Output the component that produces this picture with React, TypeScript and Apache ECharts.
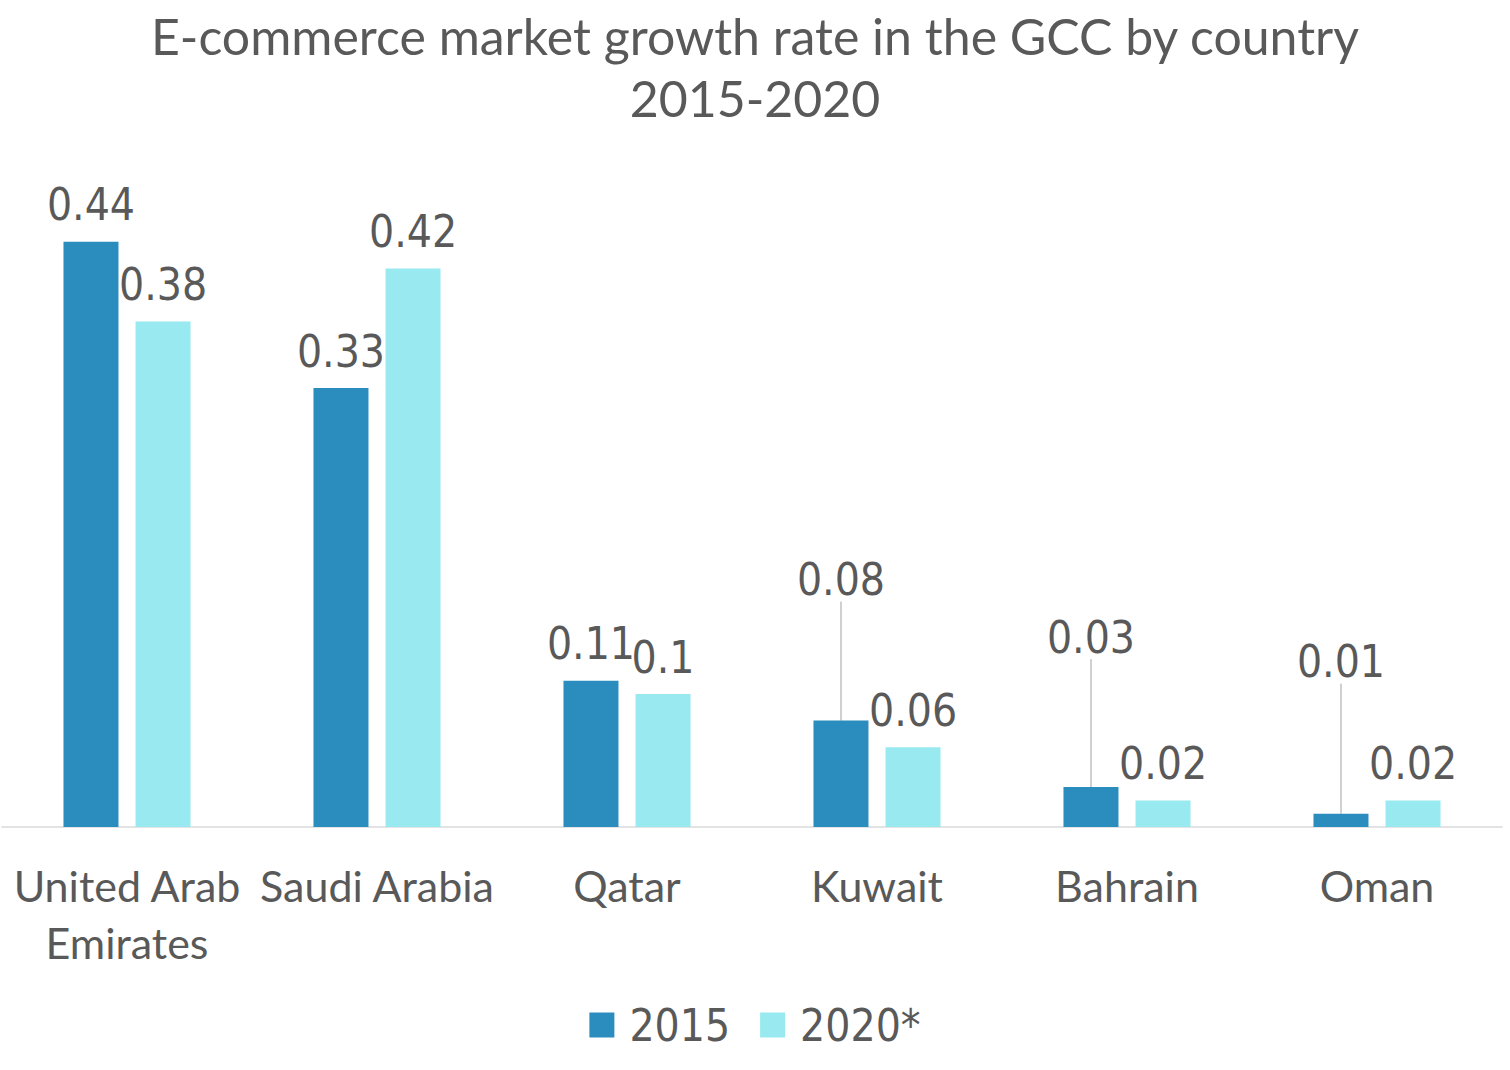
import React, { useEffect, useRef } from "react";
import * as echarts from "echarts";

const countries = ["United Arab\nEmirates", "Saudi Arabia", "Qatar", "Kuwait", "Bahrain", "Oman"];
const seriesNames = ["2015", "2020*"];
const values2015 = [0.44, 0.33, 0.11, 0.08, 0.03, 0.01];
const values2020 = [0.38, 0.42, 0.1, 0.06, 0.02, 0.02];
// label lifts (px) for the 2015 labels that sit above the bar with a leader line
const lifted2015 = [0, 0, 0, -104, -113, -115];

const TEXT = "#595959";
const NUM_FONT = "'Liberation Sans Narrow', 'DejaVu Sans Condensed', Roboto, sans-serif";
const WORD_FONT = "Lato, 'Open Sans', sans-serif";

export default function App() {
  const ref = useRef<HTMLDivElement>(null);
  useEffect(() => {
    if (!ref.current) return;
    const chart = echarts.init(ref.current, undefined, { renderer: "svg" });
    const labelStyle = {
      show: true,
      position: "top" as const,
      distance: 15,
      color: TEXT,
      fontFamily: NUM_FONT,
      fontSize: 44,
    };
    const data2015 = values2015.map((v, i) =>
      lifted2015[i]
        ? { value: v, labelLine: { show: true, lineStyle: { color: "#d0d0d0", width: 2 } } }
        : { value: v }
    );
    chart.setOption({
      animation: false,
      backgroundColor: "#ffffff",
      title: {
        text: "E-commerce market growth rate in the GCC by country\n2015-2020",
        left: "center",
        top: 0,
        textStyle: {
          color: TEXT,
          fontFamily: WORD_FONT,
          fontWeight: "normal",
          fontSize: 50,
          lineHeight: 62,
        },
      },
      legend: {
        data: seriesNames,
        bottom: 18,
        left: "center",
        icon: "rect",
        itemWidth: 25,
        itemHeight: 25,
        itemGap: 30,
        textStyle: { color: TEXT, fontFamily: NUM_FONT, fontSize: 44, padding: [0, 0, 0, 10] },
      },
      grid: { left: 2, right: 8, top: 162, bottom: 243, containLabel: false },
      xAxis: {
        type: "category",
        data: countries,
        axisLine: { show: true, lineStyle: { color: "#e3e3e3", width: 2 } },
        axisTick: { show: false },
        axisLabel: {
          interval: 0,
          color: TEXT,
          fontFamily: WORD_FONT,
          fontSize: 43,
          lineHeight: 57,
          margin: 30,
        },
      },
      yAxis: {
        type: "value",
        min: 0,
        max: 0.5,
        show: false,
        splitLine: { show: false },
      },
      series: [
        {
          name: seriesNames[0],
          type: "bar",
          data: data2015,
          barWidth: 55,
          barGap: "31%",
          itemStyle: { color: "#2b8cbe" },
          label: labelStyle,
          labelLayout: (params: any) => {
            const dy = lifted2015[params.dataIndex];
            return dy ? { dy } : {};
          },
        },
        {
          name: seriesNames[1],
          type: "bar",
          data: values2020,
          barWidth: 55,
          itemStyle: { color: "#98eaf0" },
          label: labelStyle,
        },
      ],
    });
    return () => chart.dispose();
  }, []);
  return (
    <div
      ref={ref}
      style={{ position: "fixed", left: 0, top: 0, width: 1510, height: 1070 }}
    />
  );
}
